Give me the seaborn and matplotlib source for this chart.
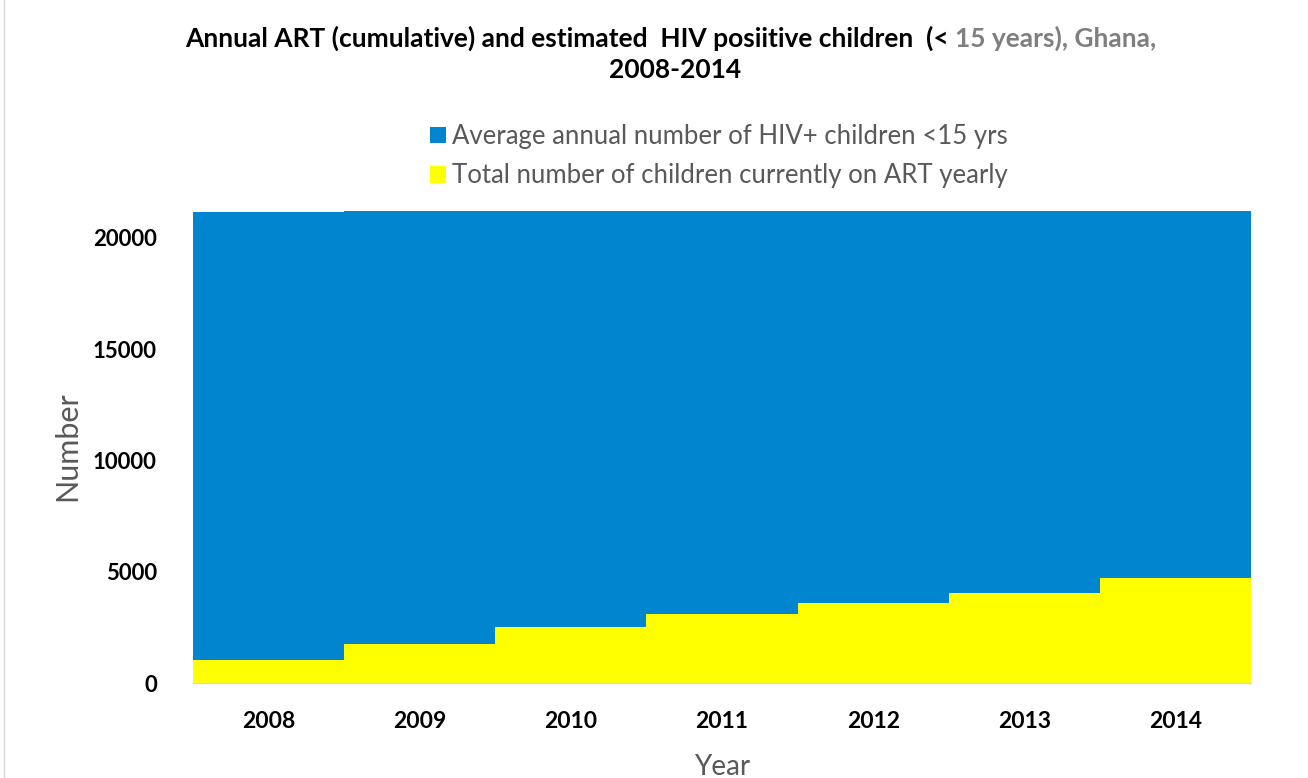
import matplotlib
matplotlib.use("Agg")
import matplotlib.pyplot as plt
from matplotlib.patches import Patch
import seaborn as sns
import pandas as pd

years = ["2008", "2009", "2010", "2011", "2012", "2013", "2014"]
hiv_children = [21150, 21230, 21230, 21230, 21230, 21230, 21230]
on_art = [1050, 1740, 2530, 3090, 3610, 4060, 4700]
yticks = [0, 5000, 10000, 15000, 20000]

blue = "#0085CE"
yellow = "#FFFF00"
grey = "#595959"

sns.set_theme(style="white")
plt.rcParams["font.family"] = ["Lato", "DejaVu Sans"]

df = pd.DataFrame({"Year": years, "HIV": hiv_children, "ART": on_art})

fig = plt.figure(figsize=(13.08, 7.78), dpi=100)
ax = fig.add_axes([193/1308, 1-683/778, (1251-193)/1308, (683-209)/778])

sns.barplot(data=df, x="Year", y="HIV", color=blue, width=1.0, ax=ax,
            edgecolor="none", linewidth=0, saturation=1)
sns.barplot(data=df, x="Year", y="ART", color=yellow, width=1.0, ax=ax,
            edgecolor="none", linewidth=0, saturation=1)

ax.set_xlim(-0.5, len(years) - 0.5)
ax.set_ylim(0, 21300)
ax.set_yticks(yticks)
ax.set_yticklabels([str(v) for v in yticks], fontsize=16, fontweight="bold", color="black")
ax.set_xticklabels(years, fontsize=16.5, fontweight="bold", color="black")
ax.tick_params(axis="x", pad=20, length=0)
ax.tick_params(axis="y", pad=26, length=0)
for s in ["top", "right", "left"]:
    ax.spines[s].set_visible(False)
ax.spines["bottom"].set_color("#D9D9D9")
ax.spines["bottom"].set_linewidth(1)

ax.set_ylabel("Number", fontsize=22, color=grey)
ax.yaxis.set_label_coords((81 - 193) / 1058, 0.5)
ax.set_xlabel("Year", fontsize=20, color=grey, labelpad=16)

# title (two-colour first line)
tsize = 19
t1 = fig.text(185/1308, 1-38/778,
              "Annual ART (cumulative) and estimated  HIV posiitive children  (< ",
              ha="left", va="center", fontsize=tsize, fontweight="bold", color="black")
fig.canvas.draw()
bb = t1.get_window_extent()
fig.text(bb.x1/1308, 1-38/778, "15 years), Ghana,", ha="left", va="center",
         fontsize=tsize, fontweight="bold", color="#7F7F7F")
fig.text(675/1308, 1-70/778, "2008-2014", ha="center", va="center",
         fontsize=tsize, fontweight="bold", color="black")

handles = [Patch(facecolor=blue, edgecolor="none",
                 label="Average annual number of HIV+ children <15 yrs"),
           Patch(facecolor=yellow, edgecolor="none",
                 label="Total number of children currently on ART yearly")]
leg = fig.legend(handles=handles, loc="upper left",
                 bbox_to_anchor=(420/1308, 1-114/778), frameon=False,
                 fontsize=18.5, handlelength=0.6, handleheight=0.6,
                 handletextpad=0.25, labelspacing=0.55, borderaxespad=0)
for t in leg.get_texts():
    t.set_color(grey)

fig.add_artist(plt.Line2D([4/1308, 4/1308], [0, 1], color="#D9D9D9", lw=1,
                          transform=fig.transFigure))

fig.savefig("out.png", dpi=100)
